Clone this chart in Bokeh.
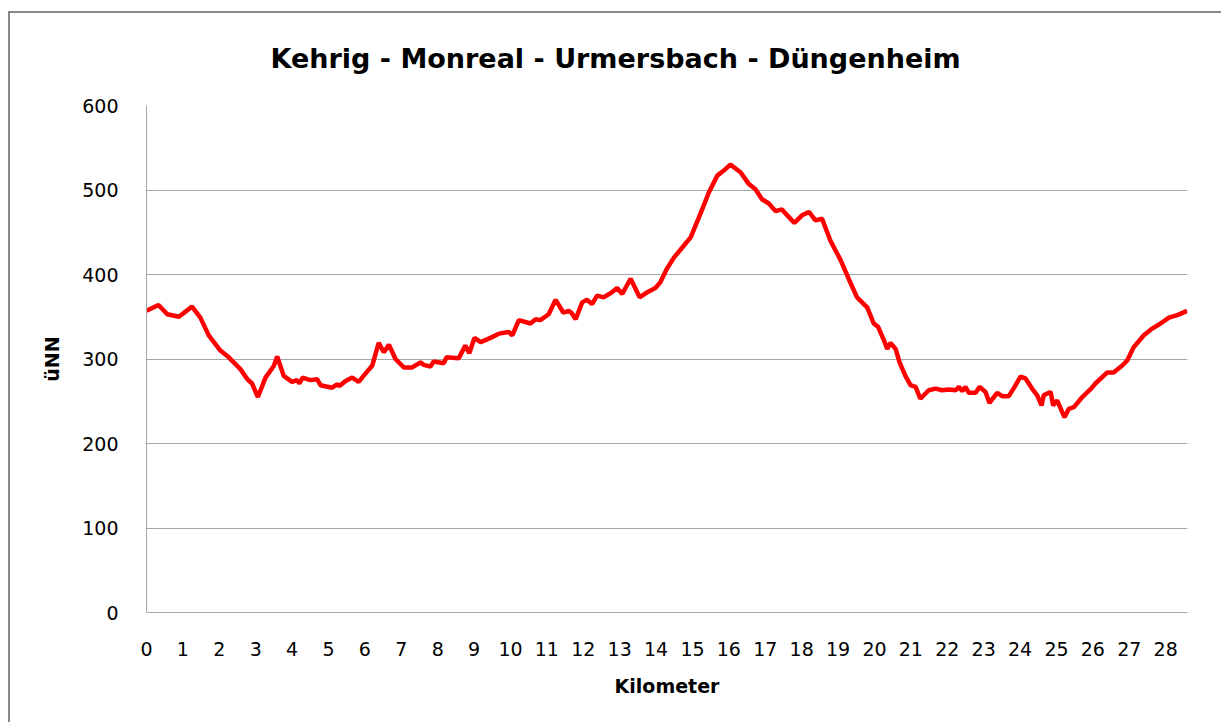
from bokeh.plotting import figure
from bokeh.models import Range1d, FixedTicker, Title, InlineStyleSheet
from bokeh.embed import file_html
from bokeh.resources import INLINE

km = [0.00, 0.33, 0.57, 0.89, 1.25, 1.48, 1.71, 2.03, 2.26, 2.58, 2.77, 2.90, 3.06, 3.27, 3.50, 3.59,
      3.77, 4.00, 4.14, 4.20, 4.29, 4.50, 4.69, 4.78, 5.10, 5.24, 5.30, 5.47, 5.65, 5.83, 6.02, 6.20,
      6.38, 6.52, 6.66, 6.84, 7.07, 7.30, 7.53, 7.62, 7.80, 7.89, 8.17, 8.24, 8.58, 8.76, 8.87, 9.01,
      9.18, 9.45, 9.68, 9.95, 10.05, 10.23, 10.55, 10.69, 10.82, 11.05, 11.24, 11.45, 11.60, 11.67,
      11.79, 11.97, 12.10, 12.24, 12.38, 12.56, 12.79, 12.93, 13.07, 13.30, 13.55, 13.76, 13.98, 14.12,
      14.30, 14.49, 14.72, 14.95, 15.22, 15.45, 15.68, 15.86, 16.04, 16.32, 16.55, 16.73, 16.91, 17.10,
      17.28, 17.46, 17.56, 17.80, 18.01, 18.20, 18.38, 18.56, 18.79, 19.07, 19.29, 19.52, 19.80, 19.98,
      20.10, 20.26, 20.35, 20.44, 20.58, 20.69, 20.85, 20.99, 21.13, 21.26, 21.49, 21.68, 21.86, 22.04,
      22.23, 22.32, 22.41, 22.50, 22.59, 22.78, 22.89, 23.05, 23.16, 23.37, 23.51, 23.69, 23.85, 24.01,
      24.15, 24.33, 24.47, 24.59, 24.65, 24.84, 24.91, 25.02, 25.22, 25.34, 25.48, 25.71, 25.93, 26.07,
      26.39, 26.57, 26.80, 26.94, 27.12, 27.40, 27.63, 27.86, 28.09, 28.32, 28.59]

elevation = [357, 364, 353, 350, 362, 349, 328, 310, 302, 288, 276, 271, 255, 278, 292, 303,
             280, 273, 275, 271, 278, 275, 276, 269, 266, 270, 268, 274, 278, 273, 283, 292,
             319, 308, 317, 300, 290, 290, 296, 293, 291, 297, 295, 302, 301, 316, 307, 325,
             320, 325, 330, 332, 328, 346, 342, 347, 346, 353, 370, 355, 357, 355,
             347, 367, 370, 365, 375, 373, 379, 384, 377, 395, 373, 379, 384, 391,
             407, 420, 432, 444, 472, 497, 517, 523, 530, 521, 507, 501, 489, 484,
             475, 477, 472, 461, 470, 474, 464, 466, 440, 417, 395, 373, 361, 342,
             338, 322, 312, 319, 312, 296, 280, 269, 267, 253, 263, 265, 263, 264,
             263, 267, 262, 267, 260, 260, 267, 261, 248, 260, 256, 256, 267, 279,
             277, 265, 257, 245, 257, 261, 245, 251, 231, 241, 243, 255, 264, 271,
             284, 284, 292, 298, 314, 328, 336, 342, 349, 352, 357]

x_ticks = list(range(0, 29))
y_ticks = [0, 100, 200, 300, 400, 500, 600]
title_text = "Kehrig - Monreal - Urmersbach - Düngenheim"
x_label = "Kilometer"
y_label = "üNN"

FONT = "DejaVu Sans"

p = figure(width=1221, height=722, output_backend="svg", toolbar_location=None,
           x_range=Range1d(0, 28.6), y_range=Range1d(0, 600),
           min_border_left=146, min_border_right=34, min_border_top=105, min_border_bottom=110)

p.add_layout(Title(text=title_text, align="left", offset=124, text_font=FONT,
                   text_font_size="27px", text_font_style="bold", text_color="black",
                   standoff=64), "above")

p.line(km, elevation, line_color="#ff0000", line_width=4.5)

# chart-area frame (grey line on left and top edges, as in the reference)
p.stylesheets = [InlineStyleSheet(css="""
:host::after {
  content: "";
  position: absolute;
  left: 8px; top: 11px; right: 0px; bottom: 0px;
  border-left: 2px solid #898989;
  border-top: 2px solid #898989;
  pointer-events: none;
}
""")]

p.outline_line_color = None
p.background_fill_color = "white"
p.border_fill_color = "white"

p.xgrid.grid_line_color = None
p.ygrid.grid_line_color = "#a6a6a6"
p.ygrid.grid_line_width = 1
p.ygrid.ticker = FixedTicker(ticks=y_ticks)

p.xaxis.ticker = FixedTicker(ticks=x_ticks)
p.yaxis.ticker = FixedTicker(ticks=y_ticks)
for ax in (p.xaxis[0], p.yaxis[0]):
    ax.axis_line_color = "#a6a6a6"
    ax.axis_line_width = 1
    ax.major_tick_line_color = None
    ax.minor_tick_line_color = None
    ax.major_label_text_font = FONT
    ax.major_label_text_font_size = "19px"
    ax.major_label_text_color = "black"
    ax.axis_label_text_font = FONT
    ax.axis_label_text_font_style = "bold"
    ax.axis_label_text_font_size = "19px"
    ax.axis_label_text_color = "black"

p.xaxis.axis_label = x_label
p.yaxis.axis_label = y_label
p.xaxis.major_label_standoff = 23
p.yaxis.major_label_standoff = 22
p.xaxis.axis_label_standoff = 16
p.yaxis.axis_label_standoff = 16

open("out.html", "w").write(file_html(p, INLINE))
